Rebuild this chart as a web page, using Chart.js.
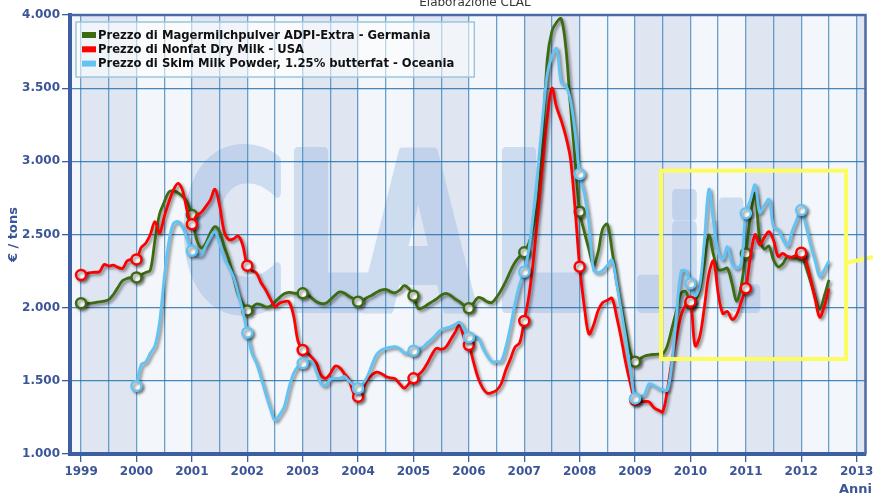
<!DOCTYPE html>
<html>
<head>
<meta charset="utf-8">
<script src="https://cdn.jsdelivr.net/npm/chart.js@4.4.1/dist/chart.umd.min.js"></script>
<style>
  html, body { margin: 0; padding: 0; background: #fff; }
  #wrap { width: 873px; height: 496px; }
</style>
</head>
<body>
<div id="wrap"><canvas id="grafico"></canvas></div>
<script>
// monthly prices, €/ton, Jan 1999 .. Jul 2012
const firstYear = 1999;
const yearLabels = ['1999', '2000', '2001', '2002', '2003', '2004', '2005', '2006', '2007', '2008', '2009', '2010', '2011', '2012', '2013'];
const yTickLabels = ['1.000', '1.500', '2.000', '2.500', '3.000', '3.500', '4.000'];
const seriesNames = [
  'Prezzo di Magermilchpulver ADPI-Extra - Germania',
  'Prezzo di Nonfat Dry Milk - USA',
  'Prezzo di Skim Milk Powder, 1.25% butterfat - Oceania'
];

const germania = [
  2030, 2030, 2030, 2035, 2040, 2045, 2055, 2090, 2140, 2185, 2200, 2205, // 1999
  2207, 2225, 2240, 2257, 2460, 2640, 2720, 2790, 2800, 2785, 2760, 2720, // 2000
  2633, 2470, 2410, 2440, 2510, 2553, 2520, 2420, 2330, 2212, 2090, 2030, // 2001
  1980, 2000, 2025, 2020, 2005, 2010, 2040, 2070, 2095, 2105, 2100, 2098, // 2002
  2098, 2090, 2065, 2040, 2028, 2030, 2055, 2085, 2108, 2100, 2078, 2060, // 2003
  2041, 2050, 2070, 2085, 2105, 2120, 2125, 2110, 2102, 2120, 2150, 2130, // 2004
  2082, 1995, 2000, 2020, 2040, 2060, 2085, 2098, 2085, 2060, 2040, 2015, // 2005
  1996, 2030, 2070, 2060, 2040, 2035, 2070, 2120, 2180, 2250, 2310, 2350, // 2006
  2378, 2440, 2560, 2736, 3150, 3700, 3890, 3950, 3975, 3780, 3380, 3020, // 2007
  2656, 2520, 2400, 2290, 2380, 2540, 2570, 2394, 2180, 2010, 1840, 1690, // 2008
  1631, 1650, 1668, 1676, 1680, 1682, 1683, 1740, 1860, 1984, 2100, 2110, // 2009
  2030, 2050, 2121, 2300, 2497, 2360, 2260, 2260, 2270, 2166, 2045, 2150, // 2010
  2371, 2622, 2780, 2470, 2400, 2420, 2326, 2280, 2300, 2348, 2340, 2340, // 2011
  2360, 2280, 2180, 2075, 1990, 2080, 2190                                // 2012
];

const usa = [
  2223, 2230, 2239, 2242, 2246, 2295, 2285, 2290, 2275, 2269, 2320, 2330, // 1999
  2330, 2410, 2440, 2500, 2588, 2508, 2620, 2720, 2804, 2850, 2800, 2660, // 2000
  2570, 2630, 2650, 2690, 2736, 2810, 2700, 2520, 2465, 2470, 2490, 2430, // 2001
  2287, 2255, 2235, 2170, 2121, 2060, 2006, 2030, 2041, 2041, 1950, 1770, // 2002
  1711, 1690, 1660, 1620, 1540, 1517, 1550, 1600, 1590, 1550, 1510, 1420, // 2003
  1392, 1440, 1506, 1540, 1560, 1550, 1530, 1520, 1515, 1480, 1450, 1480, // 2004
  1517, 1540, 1570, 1620, 1680, 1722, 1715, 1730, 1779, 1830, 1881, 1790, // 2005
  1745, 1630, 1520, 1450, 1415, 1420, 1435, 1480, 1574, 1650, 1730, 1760, // 2006
  1909, 2080, 2330, 2650, 2990, 3300, 3500, 3370, 3280, 3170, 3020, 2680, // 2007
  2280, 2010, 1820, 1880, 1980, 2035, 2050, 2064, 1940, 1790, 1620, 1480, // 2008
  1370, 1360, 1358, 1357, 1320, 1300, 1290, 1437, 1640, 1800, 1950, 2020, // 2009
  2041, 1740, 1800, 2000, 2230, 2320, 2100, 1960, 1975, 1920, 1950, 2040, // 2010
  2132, 2348, 2500, 2430, 2480, 2520, 2460, 2350, 2370, 2350, 2345, 2360, // 2011
  2376, 2320, 2200, 2060, 1935, 2010, 2130                                // 2012
];

const oceania = [
  null, null, null, null, null, null, null, null, null, null, null, null, // 1999
  1465, 1610, 1630, 1690, 1740, 1900, 2200, 2450, 2576, 2588, 2550, 2470, // 2000
  2389, 2360, 2360, 2420, 2480, 2519, 2440, 2340, 2280, 2212, 2100, 1980, // 2001
  1829, 1690, 1620, 1520, 1410, 1310, 1230, 1270, 1323, 1450, 1550, 1600, // 2002
  1620, 1630, 1632, 1560, 1480, 1470, 1510, 1517, 1517, 1530, 1500, 1470, // 2003
  1449, 1480, 1528, 1610, 1680, 1710, 1722, 1730, 1733, 1720, 1690, 1695, // 2004
  1706, 1715, 1730, 1760, 1785, 1820, 1850, 1860, 1870, 1885, 1900, 1850, // 2005
  1797, 1800, 1795, 1725, 1670, 1631, 1631, 1635, 1730, 1870, 2030, 2160, // 2006
  2246, 2400, 2650, 2963, 3300, 3600, 3720, 3772, 3540, 3520, 3420, 3200, // 2007
  2913, 2780, 2570, 2260, 2240, 2255, 2290, 2326, 2170, 1980, 1790, 1570, // 2008
  1380, 1390, 1405, 1480, 1470, 1449, 1440, 1437, 1630, 1960, 2250, 2250, // 2009
  2166, 2080, 2150, 2450, 2810, 2580, 2380, 2330, 2417, 2300, 2270, 2303, // 2010
  2645, 2736, 2840, 2650, 2700, 2740, 2553, 2535, 2470, 2420, 2520, 2600, // 2011
  2667, 2560, 2430, 2320, 2212, 2260, 2320                                // 2012
];

const colori = ['#3d6b12', '#ff0000', '#63c4f4'];

// turn a month series into {x: decimal year, y} points
function punti(valori) {
  return valori.map((v, i) => ({ x: firstYear + i / 12, y: v, mese: i % 12 }));
}

function serie(valori, i, ordine) {
  return {
    label: seriesNames[i],
    data: punti(valori),
    borderColor: colori[i],
    backgroundColor: colori[i],
    borderWidth: 2.8,
    tension: 0.35,
    order: ordine,
    pointBackgroundColor: '#fff',
    pointBorderColor: colori[i],
    pointBorderWidth: 2.5,
    pointRadius: c => (c.raw && c.raw.mese === 0 && c.raw.y !== null) ? 5 : 0,
    pointHoverRadius: 5
  };
}

// watermark drawn opaque on its own canvas, then pasted with alpha
function filigrana(w, h) {
  const c = document.createElement('canvas');
  c.width = w; c.height = h;
  const g = c.getContext('2d');
  g.fillStyle = g.strokeStyle = 'rgb(150, 180, 225)';
  g.lineWidth = 10;
  g.lineJoin = 'round';
  g.textBaseline = 'alphabetic';
  const lettera = (t, x, y, size) => {
    g.save();
    g.font = 'bold ' + size + 'px "DejaVu Sans"';
    g.translate(x, y);
    g.scale(0.68, 1);
    g.fillText(t, 0, 0);
    g.strokeText(t, 0, 0);
    g.restore();
  };
  lettera('C', 180, 308, 214);
  lettera('L', 284, 308, 214);
  lettera('A', 362, 308, 214);
  lettera('L', 492, 308, 214);
  lettera('.', 630, 308, 150);
  lettera('i', 667, 308, 150);
  lettera('t', 712, 308, 150);
  return c;
}

const sfondo = {
  id: 'sfondo',
  beforeDraw(chart) {
    const { ctx, chartArea: a, scales: { x } } = chart;
    ctx.save();
    ctx.fillStyle = '#fff';
    ctx.fillRect(0, 0, chart.width, chart.height);
    for (let yr = 1998; yr <= 2013; yr++) {
      const x0 = Math.max(a.left, x.getPixelForValue(yr));
      const x1 = Math.min(a.right, x.getPixelForValue(yr + 1));
      if (x1 <= x0) continue;
      ctx.fillStyle = yr % 2 ? '#dfe6f2' : '#f3f7fb';
      ctx.fillRect(x0, a.top, x1 - x0, a.bottom - a.top);
    }
    ctx.beginPath();
    ctx.rect(a.left, a.top, a.right - a.left, a.bottom - a.top);
    ctx.clip();
    ctx.globalAlpha = 0.4;
    ctx.drawImage(filigrana(chart.width, chart.height), 0, 0);
    ctx.restore();
  },
  beforeDatasetDraw(chart) {
    const ctx = chart.ctx;
    ctx.save();
    ctx.shadowColor = 'rgba(0, 0, 0, 0.45)';
    ctx.shadowBlur = 3;
    ctx.shadowOffsetX = 2;
    ctx.shadowOffsetY = 2;
  },
  afterDatasetDraw(chart) {
    chart.ctx.restore();
  },
  afterDatasetsDraw(chart) {
    const { ctx, scales: { x, y } } = chart;
    const l = x.getPixelForValue(2009.47), r = x.getPixelForValue(2012.81);
    const t = y.getPixelForValue(2936), b = y.getPixelForValue(1649);
    ctx.save();
    ctx.strokeStyle = '#fcfc5c';
    ctx.lineWidth = 4;
    ctx.strokeRect(l, t, r - l, b - t);
    const ym = y.getPixelForValue(2305);
    ctx.beginPath();
    ctx.moveTo(r, ym);
    ctx.lineTo(chart.width, ym - 6);
    ctx.stroke();
    ctx.restore();
  },
  afterDraw(chart) {
    const { ctx, chartArea: a } = chart;
    ctx.save();
    // top and right frame
    ctx.strokeStyle = '#4a6aa8';
    ctx.lineWidth = 2.5;
    ctx.beginPath();
    ctx.moveTo(a.left, a.top);
    ctx.lineTo(a.right, a.top);
    ctx.lineTo(a.right, a.bottom);
    ctx.stroke();

    // legend inside plot
    ctx.font = 'bold 11.6px "DejaVu Sans"';
    const larg = Math.max(...seriesNames.map(s => ctx.measureText(s).width));
    const bx = a.left + 6, by = a.top + 7;
    ctx.fillStyle = 'rgba(255, 255, 255, 0.55)';
    ctx.fillRect(bx, by, larg + 42, 55);
    ctx.strokeStyle = '#9cc6de';
    ctx.lineWidth = 1.5;
    ctx.strokeRect(bx, by, larg + 42, 55);
    ctx.textBaseline = 'middle';
    seriesNames.forEach((s, i) => {
      const ry = by + 13 + i * 14.3;
      ctx.fillStyle = colori[i];
      ctx.fillRect(bx + 6, ry - 3, 14, 6);
      ctx.fillStyle = '#111';
      ctx.fillText(s, bx + 22, ry + 0.5);
    });

    // source line (cut at the top) and x title
    ctx.fillStyle = '#333';
    ctx.font = '12px "DejaVu Sans"';
    ctx.textAlign = 'center';
    ctx.textBaseline = 'alphabetic';
    ctx.fillText('Elaborazione CLAL', 475, 6);
    ctx.fillStyle = '#3b5596';
    ctx.font = 'bold 13px "DejaVu Sans"';
    ctx.textAlign = 'left';
    ctx.textBaseline = 'middle';
    ctx.fillText('Anni', 839, 490);
    ctx.restore();
  }
};

const ctx = document.getElementById('grafico').getContext('2d');

const grafico = new Chart(ctx, {
  type: 'line',
  data: {
    datasets: [
      serie(germania, 0, 2),
      serie(usa, 1, 1),
      serie(oceania, 2, 0)
    ]
  },
  options: {
    responsive: true,
    maintainAspectRatio: false,
    animation: false,
    layout: { padding: { top: 15, right: 6, left: 0, bottom: 0 } },
    plugins: {
      legend: { display: false },
      tooltip: { enabled: false }
    },
    scales: {
      x: {
        type: 'linear',
        min: 1998.8,
        max: 2013.16,
        afterFit(scale) {
          scale.height = 42;
          scale.paddingLeft = 0;
          scale.paddingRight = 0;
        },
        border: { color: '#3d5ea0', width: 4 },
        grid: {
          color: 'rgba(60, 130, 185, 0.75)',
          lineWidth: 1.3,
          tickLength: 8,
          tickColor: c => (c.tick && Number.isInteger(c.tick.value)) ? '#3d5ea0' : 'rgba(0,0,0,0)'
        },
        ticks: {
          stepSize: 0.5,
          includeBounds: false,
          autoSkip: false,
          maxRotation: 0,
          padding: 3,
          color: '#3b5596',
          font: { family: 'DejaVu Sans', size: 12, weight: 'bold' },
          callback: v => Number.isInteger(v) ? (yearLabels[v - firstYear] || '') : ''
        }
      },
      y: {
        min: 1000,
        max: 4000,
        afterFit(scale) {
          scale.width = 70;
          scale.paddingTop = 0;
          scale.paddingBottom = 0;
        },
        border: { color: '#3d5ea0', width: 4 },
        grid: {
          color: 'rgba(40, 115, 175, 0.85)',
          lineWidth: 1.3,
          tickLength: 8,
          tickColor: '#3d5ea0'
        },
        ticks: {
          stepSize: 500,
          padding: 2,
          color: '#3b5596',
          font: { family: 'DejaVu Sans', size: 12, weight: 'bold' },
          callback: v => yTickLabels[(v - 1000) / 500]
        },
        title: {
          display: true,
          text: '€ / tons',
          color: '#3b5596',
          padding: { top: 6, bottom: 0 },
          font: { family: 'DejaVu Sans', size: 13, weight: 'bold' }
        }
      }
    }
  },
  plugins: [sfondo]
});
</script>
</body>
</html>
